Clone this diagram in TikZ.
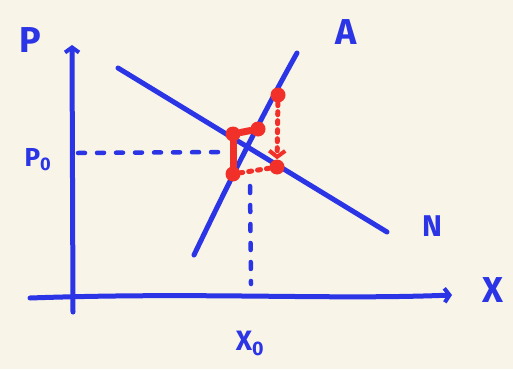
\documentclass[tikz,border=0pt]{standalone}
\usepackage{fontspec}
\setmainfont{Fira Sans}
\usetikzlibrary{arrows.meta}
\definecolor{bg}{HTML}{F8F4E8}
\definecolor{pen}{HTML}{2B35E6}
\definecolor{rd}{HTML}{F2302A}
\begin{document}
\begin{tikzpicture}[x=1pt,y=-1pt,
  penline/.style={draw=pen,line width=5pt,line cap=round},
  dashline/.style={draw=pen,line width=4.5pt,line cap=round,dash pattern=on 7pt off 12pt},
  redline/.style={draw=rd,line width=5pt,line cap=round,dash pattern=on 3pt off 6pt},
  reddot/.style={circle,fill=rd,inner sep=0pt,minimum size=15pt},
  lbl/.style={text=pen,font=\fontsize{36}{36}\selectfont\bfseries,inner sep=0pt},
  axtip/.style={-{Straight Barb[length=5pt,width=14pt,line width=4pt]}}]
\fill[bg] (0,0) rectangle (513,369);
\useasboundingbox (0,0) rectangle (513,369);
% axes
\coordinate (ybot) at (73,312);
\coordinate (ytop) at (72,45);
\coordinate (xleft) at (30,298);
\coordinate (xright) at (452,295);
\draw[penline,axtip] (ybot) -- (ytop);
\draw[penline,axtip] (xleft) .. controls (200,292) and (330,300) .. (xright);
% curves
\coordinate (n1) at (118,68);
\coordinate (n2) at (387,232);
\coordinate (a1) at (194,255);
\coordinate (a2) at (297,53);
\draw[penline] (n1) -- (n2);
\draw[penline] (a1) .. controls (230,180) and (265,110) .. (a2);
% equilibrium dashed lines
\coordinate (p0a) at (78,153);
\coordinate (p0b) at (226,152);
\coordinate (x0a) at (250,186);
\coordinate (x0b) at (251,284);
\draw[dashline] (p0a) -- (p0b);
\draw[dashline] (x0a) -- (x0b);
% labels
\node[lbl] (lP) at (30,40) {P};
\node[lbl,font=\fontsize{26}{26}\selectfont\bfseries] (lp0) at (38,160) {P$_{\mathbf{0}}$};
\node[lbl] (lA) at (346,32) {A};
\node[lbl,font=\fontsize{30}{30}\selectfont\bfseries] (lN) at (432,226) {N};
\node[lbl] (lX) at (493,290) {X};
\node[lbl,font=\fontsize{28}{28}\selectfont\bfseries] (lx0) at (250,343) {X$_{\mathbf{0}}$};
% red cobweb
\node[reddot] (s1) at (278,95) {};
\node[reddot] (d1) at (277,167) {};
\node[reddot] (s2) at (233,174) {};
\node[reddot] (d2) at (233,134) {};
\node[reddot] (s3) at (258,129) {};
\draw[redline,-{Straight Barb[length=6pt,width=16pt,line width=4pt]}] (s1) -- (d1);
\draw[redline] (d1) -- (s2);
\draw[draw=rd,line width=7pt,line cap=round] (s2) -- (d2);
\draw[draw=rd,line width=7pt,line cap=round] (d2) -- (s3);
\end{tikzpicture}
\end{document}
